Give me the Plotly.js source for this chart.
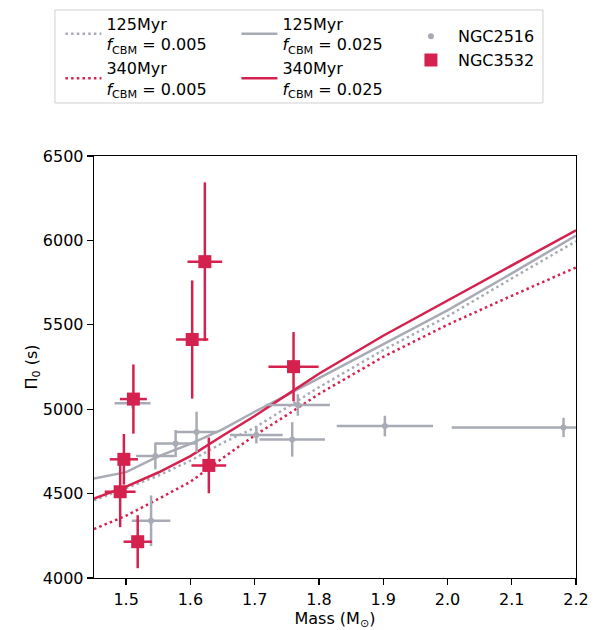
<!DOCTYPE html>
<html>
<head>
<meta charset="utf-8">
<script src="https://cdn.plot.ly/plotly-3.0.1.min.js"></script>
<style>html,body{margin:0;padding:0;background:#fff;}#plot{width:595px;height:630px;}</style>
</head>
<body>
<div id="plot"></div>
<script>
// Model grid (mass in Msun)
const modelMass = [1.45, 1.5, 1.55, 1.6, 1.65, 1.7, 1.75, 1.8, 1.9, 2.0, 2.1, 2.2];
const p125_f005 = [4460, 4533, 4606, 4695, 4800, 4890, 5010, 5130, 5350, 5550, 5775, 5995];
const p125_f025 = [4590, 4627, 4720, 4795, 4880, 4985, 5083, 5183, 5380, 5585, 5805, 6028];
const p340_f005 = [4290, 4369, 4468, 4570, 4710, 4845, 4965, 5090, 5310, 5500, 5672, 5840];
const p340_f025 = [4470, 4541, 4625, 4722, 4843, 4960, 5085, 5210, 5435, 5642, 5852, 6060];

// NGC2516 observations
const ngc2516Mass    = [1.510, 1.5388, 1.5455, 1.577, 1.6096, 1.7026, 1.7584, 1.7672, 1.9026, 2.1806];
const ngc2516Pi0     = [5035, 4339, 4723, 4797, 4865, 4847, 4821, 5025, 4900, 4892];
const ngc2516MassErr = [0.028, 0.030, 0.030, 0.032, 0.033, 0.041, 0.051, 0.050, 0.075, 0.174];
const ngc2516Pi0Err  = [30, 150, 79, 80, 120, 50, 102, 64, 61, 57];

// NGC3532 observations
const ngc3532Mass    = [1.5113, 1.4965, 1.4907, 1.518, 1.6028, 1.6225, 1.6287, 1.7605];
const ngc3532Pi0     = [5060, 4703, 4511, 4215, 5413, 5874, 4667, 5252];
const ngc3532MassErr = [0.021, 0.022, 0.024, 0.022, 0.025, 0.027, 0.027, 0.039];
const ngc3532Pi0Err  = [205, 150, 210, 157, 350, 470, 165, 205];

const xTicks = [1.5, 1.6, 1.7, 1.8, 1.9, 2.0, 2.1, 2.2];
const yTicks = [4000, 4500, 5000, 5500, 6000, 6500];

const GRAY = '#a8abb5';
const RED = '#d4214e';
const FONT = 'DejaVu Sans, sans-serif';
const DOT = '2.5px,3.2px';

const traces = [
  {x: modelMass, y: p125_f005, mode: 'lines', name: '125Myr<br><i>f</i><sub>CBM</sub> = 0.005',
   line: {color: GRAY, width: 2.5, dash: DOT}, legend: 'legend', hoverinfo: 'skip'},
  {x: modelMass, y: p340_f005, mode: 'lines', name: '340Myr<br><i>f</i><sub>CBM</sub> = 0.005',
   line: {color: RED, width: 2.5, dash: DOT}, legend: 'legend', hoverinfo: 'skip'},
  {x: modelMass, y: p125_f025, mode: 'lines', name: '125Myr<br><i>f</i><sub>CBM</sub> = 0.025',
   line: {color: GRAY, width: 2.5}, legend: 'legend3', hoverinfo: 'skip'},
  {x: modelMass, y: p340_f025, mode: 'lines', name: '340Myr<br><i>f</i><sub>CBM</sub> = 0.025',
   line: {color: RED, width: 2.5}, legend: 'legend3', hoverinfo: 'skip'},
  {x: ngc2516Mass, y: ngc2516Pi0, mode: 'markers', name: 'NGC2516', legend: 'legend2',
   marker: {color: GRAY, size: 6, symbol: 'circle'},
   error_x: {type: 'data', array: ngc2516MassErr, color: GRAY, thickness: 2.5, width: 0},
   error_y: {type: 'data', array: ngc2516Pi0Err, color: GRAY, thickness: 2.5, width: 0}},
  {x: ngc3532Mass, y: ngc3532Pi0, mode: 'markers', name: 'NGC3532', legend: 'legend2',
   marker: {color: RED, size: 13, symbol: 'square'},
   error_x: {type: 'data', array: ngc3532MassErr, color: RED, thickness: 2.5, width: 0},
   error_y: {type: 'data', array: ngc3532Pi0Err, color: RED, thickness: 2.5, width: 0}}
];

const axisCommon = {
  showgrid: false, zeroline: false, showline: true, mirror: true,
  linecolor: '#000', linewidth: 1.3, ticks: 'outside', ticklen: 6, tickwidth: 1.3,
  tickcolor: '#000', tickfont: {family: FONT, size: 16, color: '#000'}
};

const legFont = {family: FONT, size: 16, color: '#000'};

const layout = {
  width: 595, height: 630, autosize: false,
  margin: {l: 94, r: 19, t: 156, b: 52, pad: 0, autoexpand: false},
  paper_bgcolor: '#fff', plot_bgcolor: '#fff',
  font: {family: FONT, size: 16, color: '#000'},
  xaxis: Object.assign({}, axisCommon, {
    range: [1.45, 2.2], tickvals: xTicks, ticktext: xTicks.map(v => v.toFixed(1)),
    title: {text: 'Mass (M<sub>⊙</sub>)', font: {family: FONT, size: 16, color: '#000'}, standoff: 6}
  }),
  yaxis: Object.assign({}, axisCommon, {
    range: [4000, 6500], tickvals: yTicks, ticktext: yTicks.map(String),
    title: {text: 'Π<sub>0</sub> (s)', font: {family: FONT, size: 16, color: '#000'}, standoff: 1}
  }),
  showlegend: true,
  legend: {
    orientation: 'v', x: -0.0697, y: 1.3545, xanchor: 'left', yanchor: 'top',
    traceorder: 'normal', itemwidth: 36, tracegroupgap: 0,
    bgcolor: 'rgba(0,0,0,0)', borderwidth: 0, font: legFont
  },
  legend3: {
    orientation: 'v', x: 0.2955, y: 1.3545, xanchor: 'left', yanchor: 'top',
    traceorder: 'normal', itemwidth: 36, tracegroupgap: 0,
    bgcolor: 'rgba(0,0,0,0)', borderwidth: 0, font: legFont
  },
  legend2: {
    orientation: 'v', x: 0.643, y: 1.324, xanchor: 'left', yanchor: 'top', itemwidth: 44,
    bgcolor: 'rgba(0,0,0,0)', borderwidth: 0, tracegroupgap: 0, font: legFont
  },
  shapes: [{
    type: 'rect', xref: 'paper', yref: 'paper',
    x0: -0.081, x1: 0.9315, y0: 1.1256, y1: 1.346,
    line: {color: '#d0d0d0', width: 1}, fillcolor: 'rgba(255,255,255,0.8)', layer: 'below'
  }]
};

Plotly.newPlot('plot', traces, layout, {staticPlot: true, displayModeBar: false});
</script>
</body>
</html>
